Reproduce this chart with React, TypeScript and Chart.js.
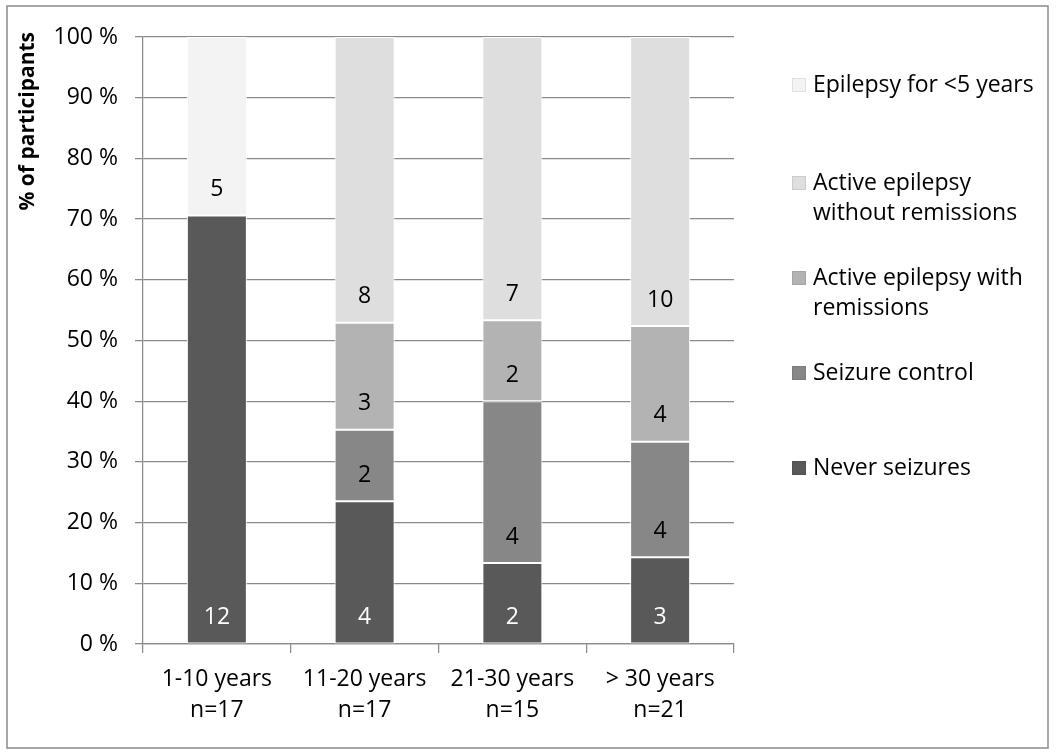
import { useEffect, useRef } from "react";
import { Chart, registerables } from "chart.js";

Chart.register(...registerables);

// ---- data ----
const categories: string[][] = [
  ["1-10 years", "n=17"],
  ["11-20 years", "n=17"],
  ["21-30 years", "n=15"],
  ["> 30 years", "n=21"],
];
const groupTotals = [17, 17, 15, 21];
const neverSeizures = [12, 4, 2, 3];
const seizureControl = [0, 2, 4, 4];
const withRemissions = [0, 3, 2, 4];
const withoutRemissions = [0, 8, 7, 10];
const epilepsyUnder5 = [5, 0, 0, 0];
const seriesNames = [
  "Never seizures",
  "Seizure control",
  "Active epilepsy with remissions",
  "Active epilepsy without remissions",
  "Epilepsy for <5 years",
];
const seriesColors = ["#595959", "#878787", "#b3b3b3", "#dedede", "#f3f3f3"];
const labelColors = ["#ffffff", "#000000", "#000000", "#000000", "#000000"];
const yTickValues = [0, 10, 20, 30, 40, 50, 60, 70, 80, 90, 100];
const yTitle = "% of participants";
// legend order (top to bottom) with line wraps, indexes into seriesNames
const legendOrder = [4, 3, 2, 1, 0];
const legendLines: string[][] = [
  ["Epilepsy for <5 years"],
  ["Active epilepsy", "without remissions"],
  ["Active epilepsy with", "remissions"],
  ["Seizure control"],
  ["Never seizures"],
];

const FONT = "'Open Sans', 'Noto Sans', sans-serif";
const GRID = "#8a8a8a";

const seriesCounts = [neverSeizures, seizureControl, withRemissions, withoutRemissions, epilepsyUnder5];

export default function App() {
  const ref = useRef<HTMLCanvasElement | null>(null);

  useEffect(() => {
    const canvas = ref.current;
    if (!canvas) return;

    const labelPlugin = {
      id: "countLabels",
      afterDatasetsDraw(chart: any) {
        const ctx = chart.ctx;
        ctx.save();
        ctx.font = `23px ${FONT}`;
        ctx.textAlign = "center";
        ctx.textBaseline = "middle";
        chart.data.datasets.forEach((ds: any, di: number) => {
          const meta = chart.getDatasetMeta(di);
          meta.data.forEach((el: any, i: number) => {
            const c = ds.counts[i];
            if (!c) return;
            ctx.fillStyle = labelColors[di];
            ctx.fillText(String(c), el.x, el.base - 26);
          });
        });
        ctx.restore();
      },
    };

    const decorPlugin = {
      id: "decor",
      afterDraw(chart: any) {
        const ctx = chart.ctx;
        ctx.save();
        // frame
        ctx.strokeStyle = GRID;
        ctx.lineWidth = 1.5;
        ctx.strokeRect(7, 6, 1041, 742);
        // y title
        ctx.save();
        ctx.translate(28, 32);
        ctx.rotate(-Math.PI / 2);
        ctx.font = `bold 21px ${FONT}`;
        ctx.fillStyle = "#000";
        ctx.textAlign = "right";
        ctx.textBaseline = "middle";
        ctx.fillText(yTitle, 0, 0);
        ctx.restore();
        // legend
        const ys = [85, 183, 278, 373, 468];
        ctx.font = `23px ${FONT}`;
        ctx.textAlign = "left";
        ctx.textBaseline = "middle";
        legendOrder.forEach((si, k) => {
          const y = ys[k];
          ctx.fillStyle = seriesColors[si];
          ctx.fillRect(792, y - 7, 14, 14);
          ctx.strokeStyle = "rgba(0,0,0,0.08)";
          ctx.lineWidth = 1;
          ctx.strokeRect(792.5, y - 6.5, 13, 13);
          ctx.fillStyle = "#000";
          legendLines[k].forEach((line, li) => {
            ctx.fillText(line, 813, y + li * 30);
          });
        });
        ctx.restore();
      },
    };

    const chart = new Chart(canvas, {
      type: "bar",
      data: {
        labels: categories,
        datasets: seriesCounts.map((counts, si) => ({
          label: seriesNames[si],
          data: counts.map((c, i) => (c > 0 ? (c / groupTotals[i]) * 100 : null)),
          counts,
          backgroundColor: seriesColors[si],
          borderColor: "#ffffff",
          borderWidth: 1,
          borderSkipped: false,
          categoryPercentage: 1,
          barPercentage: 0.406,
        })) as any,
      },
      options: {
        animation: false,
        responsive: false,
        layout: { padding: { left: 0, top: 37, right: 322, bottom: 0 } },
        plugins: { legend: { display: false }, tooltip: { enabled: false } },
        scales: {
          x: {
            stacked: true,
            grid: {
              offset: true,
              drawOnChartArea: false,
              drawTicks: true,
              tickLength: 9,
              color: GRID,
              lineWidth: 1.25,
            },
            border: { color: GRID, width: 1.25 },
            ticks: {
              color: "#000",
              font: { family: FONT, size: 23, lineHeight: 1.35 },
              padding: 11,
              maxRotation: 0,
              autoSkip: false,
            },
            afterFit: (s: any) => {
              s.height = 112;
            },
          },
          y: {
            stacked: true,
            min: 0,
            max: 100,
            afterBuildTicks: (s: any) => {
              s.ticks = yTickValues.map((v) => ({ value: v }));
            },
            ticks: {
              color: "#000",
              font: { family: FONT, size: 23 },
              padding: 17,
              callback: (v: any) => `${v} %`,
            },
            grid: { color: GRID, tickLength: 8, lineWidth: 1.25 },
            border: { color: GRID, width: 1.25 },
            afterFit: (s: any) => {
              s.width = 143;
            },
          },
        },
      },
      plugins: [labelPlugin, decorPlugin],
    });

    return () => chart.destroy();
  }, []);

  return (
    <div style={{ position: "fixed", left: 0, top: 0, width: 1056, height: 756, background: "#fff" }}>
      <canvas ref={ref} width={1056} height={756} style={{ width: 1056, height: 756, display: "block" }} />
    </div>
  );
}
